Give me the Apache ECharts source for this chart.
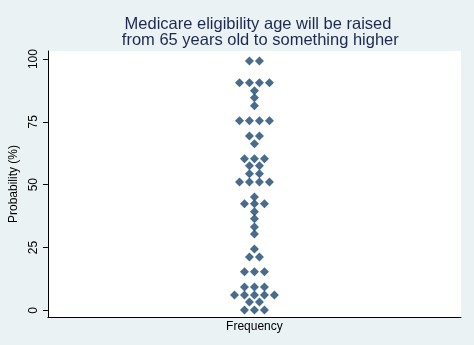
<!DOCTYPE html>
<html>
<head>
<meta charset="utf-8">
<script src="https://cdn.jsdelivr.net/npm/echarts@6/dist/echarts.min.js"></script>
<style>
  html, body { margin: 0; padding: 0; background: #eaf2f3; }
  #chart { width: 474px; height: 345px; }
</style>
</head>
<body>
<div id="chart"></div>
<script>
// Dot-plot bins: the probability value of each row and how many answers fall in it
const binValues = [0.1, 3.3, 6.1, 9.3, 15.3, 21.2, 24.4, 30.4, 33.2, 36.4, 39.2, 42.4, 45.1,
                   51.1, 54.3, 57.5, 60.3, 66.3, 69.4, 75.4, 81.4, 84.6, 87.4, 90.6, 99.2];
const binCounts = [3, 2, 5, 3, 3, 2, 1, 1, 1, 1, 1, 3, 1,
                   4, 2, 2, 3, 1, 2, 4, 1, 1, 1, 4, 2];
const yTicks = [0, 25, 50, 75, 100];
const titleLines = ['Medicare eligibility age will be raised', ' from 65 years old to something higher'];
const xTitle = 'Frequency';
const yTitle = 'Probability (%)';

// Spread each row's dots symmetrically around the centre of the plot
const points = [];
binValues.forEach((v, i) => {
  const n = binCounts[i];
  for (let k = 0; k < n; k++) {
    points.push([k - (n - 1) / 2, v]);
  }
});

const font = 'Liberation Sans, Arial, sans-serif';
const chart = echarts.init(document.getElementById('chart'));
chart.setOption({
  backgroundColor: '#eaf2f3',
  animation: false,
  title: {
    text: titleLines.join('\n'),
    left: 253,
    textAlign: 'center',
    top: 11,
    textStyle: { fontFamily: font, fontSize: 16.5, fontWeight: 'normal', color: '#1e2850', lineHeight: 16.5 }
  },
  grid: {
    left: 47, right: 13, top: 51, bottom: 28,
    show: true, backgroundColor: '#ffffff', borderWidth: 0
  },
  xAxis: {
    type: 'value',
    min: -20.7, max: 20.7,
    name: xTitle,
    nameLocation: 'middle',
    nameGap: 4,
    nameTextStyle: { fontFamily: font, fontSize: 12, color: '#000' },
    axisLine: { show: true, onZero: false, lineStyle: { color: '#000', width: 1 } },
    axisTick: { show: false },
    axisLabel: { show: false },
    splitLine: { show: false }
  },
  yAxis: {
    type: 'value',
    min: -2.67, max: 103.2,
    name: yTitle,
    nameLocation: 'middle',
    nameRotate: 90,
    nameGap: 27,
    nameTextStyle: { fontFamily: font, fontSize: 12, color: '#000' },
    axisLine: { show: true, onZero: false, lineStyle: { color: '#000', width: 1 } },
    axisTick: { show: true, length: 5, customValues: yTicks, lineStyle: { color: '#000' } },
    axisLabel: {
      customValues: yTicks,
      rotate: 90,
      margin: 8,
      fontFamily: font, fontSize: 12, color: '#000'
    },
    splitLine: { show: false }
  },
  series: [{
    type: 'scatter',
    data: points,
    symbol: 'diamond',
    symbolSize: 9,
    itemStyle: { color: '#1a476f' }
  }]
});
</script>
</body>
</html>
